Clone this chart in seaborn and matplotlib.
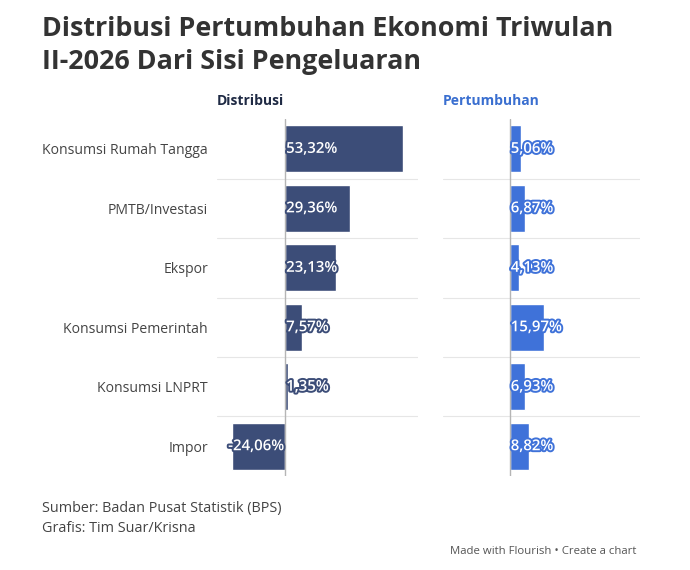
import numpy as np
import pandas as pd
import matplotlib
matplotlib.use("Agg")
import matplotlib.pyplot as plt
import matplotlib.patheffects as pe
import seaborn as sns

kategori = ["Konsumsi Rumah Tangga", "PMTB/Investasi", "Ekspor",
            "Konsumsi Pemerintah", "Konsumsi LNPRT", "Impor"]
distribusi = [53.32, 29.36, 23.13, 7.57, 1.35, -24.06]
pertumbuhan = [5.06, 6.87, 4.13, 15.97, 6.93, 8.82]

df = pd.DataFrame({"kategori": kategori, "Distribusi": distribusi, "Pertumbuhan": pertumbuhan})

sns.set_theme(style="white")
plt.rcParams["font.family"] = ["Open Sans", "DejaVu Sans"]

NAVY = "#3c4d78"
BLUE = "#3f72d9"
GRID = "#e6e6e6"

fig = plt.figure(figsize=(6.9, 5.7), dpi=100)
ax1 = fig.add_axes([0.3145, 0.165, 0.2913, 0.626])
ax2 = fig.add_axes([0.642, 0.165, 0.2855, 0.626])


def fmt(v):
    return f"{v:.2f}%".replace(".", ",")


panels = [(ax1, "Distribusi", NAVY, "#1f2a44"), (ax2, "Pertumbuhan", BLUE, "#3a6fd0")]
for ax, col, color, head_color in panels:
    sns.barplot(data=df, x=col, y="kategori", ax=ax, color=color, width=0.79,
                orient="h", saturation=1)
    ax.set_xlim(-30.7, 60)
    ax.set_ylim(len(kategori) - 0.5, -0.5)
    for i in range(len(kategori) - 1):
        ax.axhline(i + 0.5, color=GRID, linewidth=0.8, zorder=0)
    ax.axvline(0, color="#b5b5b5", linewidth=1, zorder=3)
    for i, v in enumerate(df[col]):
        ha = "left" if v >= 0 else "right"
        off = 0.5 if v >= 0 else -0.5
        ax.text(off, i, fmt(v), ha=ha, va="center", color="white",
                fontsize=10.8, fontweight="semibold", zorder=5,
                path_effects=[pe.withStroke(linewidth=2.8, foreground=color)])
    sns.despine(ax=ax, left=True, bottom=True)
    ax.set_xticks([])
    ax.set_xlabel("")
    ax.set_ylabel("")
    ax.text(0.0, 1.03, col, transform=ax.transAxes, ha="left", va="bottom",
            fontsize=10, fontweight="bold", color=head_color)

ax1.tick_params(axis="y", length=0, pad=6.5, labelsize=10.1, labelcolor="#444444")
ax2.set_yticks([])

fig.text(0.061, 0.972, "Distribusi Pertumbuhan Ekonomi Triwulan\nII-2026 Dari Sisi Pengeluaran",
         ha="left", va="top", fontsize=19.4, fontweight="bold", color="#333333",
         linespacing=1.36)
fig.text(0.061, 0.108, "Sumber: Badan Pusat Statistik (BPS)", ha="left", va="center",
         fontsize=10.4, color="#444444")
fig.text(0.061, 0.073, "Grafis: Tim Suar/Krisna", ha="left", va="center",
         fontsize=10.4, color="#444444")
fig.text(0.923, 0.033, "Made with Flourish • Create a chart", ha="right", va="center",
         fontsize=8.2, color="#555555")

fig.savefig("out.png", dpi=100)
